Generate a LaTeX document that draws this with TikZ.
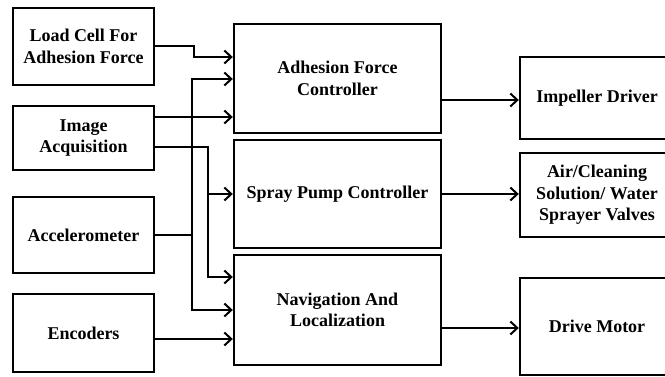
\documentclass[tikz,border=0pt]{standalone}
\usepackage{fontspec}
\setmainfont{Liberation Serif}
\usetikzlibrary{arrows.meta}
\begin{document}
\begin{tikzpicture}[x=1pt,y=-1pt,
  blk/.style={draw=black,line width=2.4pt,inner sep=0pt,align=center,
    font=\bfseries\fontsize{18}{21.5}\selectfont},
  arr/.style={line width=2pt,-{Straight Barb[length=7pt,width=13pt]}},
  ln/.style={line width=2pt}]
\useasboundingbox (0,0) rectangle (665,377);
% left column
\node[blk,minimum width=141pt,minimum height=77pt] (lc) at (83.5,46.5) {Load Cell For\\Adhesion Force};
\node[blk,minimum width=141pt,minimum height=64pt] (ia) at (83.5,138) {Image\\Acquisition};
\node[blk,minimum width=141pt,minimum height=76pt] (acc) at (83.5,235) {Accelerometer};
\node[blk,minimum width=141pt,minimum height=78pt] (enc) at (83.5,333) {Encoders};
% middle column
\node[blk,minimum width=207pt,minimum height=109pt] (afc) at (337.5,78.5) {Adhesion Force\\Controller};
\node[blk,minimum width=207pt,minimum height=108pt] (spc) at (337.5,194) {Spray Pump Controller};
\node[blk,minimum width=207pt,minimum height=110pt] (nav) at (337.5,310) {Navigation And\\Localization};
% right column
\node[blk,minimum width=154pt,minimum height=82pt] (imp) at (597,98) {Impeller Driver};
\node[blk,minimum width=154pt,minimum height=84pt] (air) at (597,195) {Air/Cleaning\\Solution/ Water\\Sprayer Valves};
\node[blk,minimum width=154pt,minimum height=97pt] (drv) at (597,326.5) {Drive Motor};
% connectors
\draw[arr] (lc.east |- 0,46) -- (194,46) |- (afc.west |- 0,57);
\draw[arr] (ia.east |- 0,117) -- (afc.west |- 0,117);
\draw[ln] (acc.east) -| (192,235);
\draw[arr] (192,235) |- (afc.west |- 0,79);
\draw[arr] (192,235) |- (nav.west |- 0,310);
\draw[arr] (ia.east |- 0,147) -| (208,194) -- (spc.west |- 0,194);
\draw[arr] (208,194) |- (nav.west |- 0,277);
\draw[arr] (enc.east |- 0,339) -- (nav.west |- 0,339);
\draw[arr] (afc.east |- 0,100) -- (imp.west |- 0,100);
\draw[arr] (spc.east |- 0,194) -- (air.west |- 0,194);
\draw[arr] (nav.east |- 0,328) -- (drv.west |- 0,328);
\end{tikzpicture}
\end{document}
